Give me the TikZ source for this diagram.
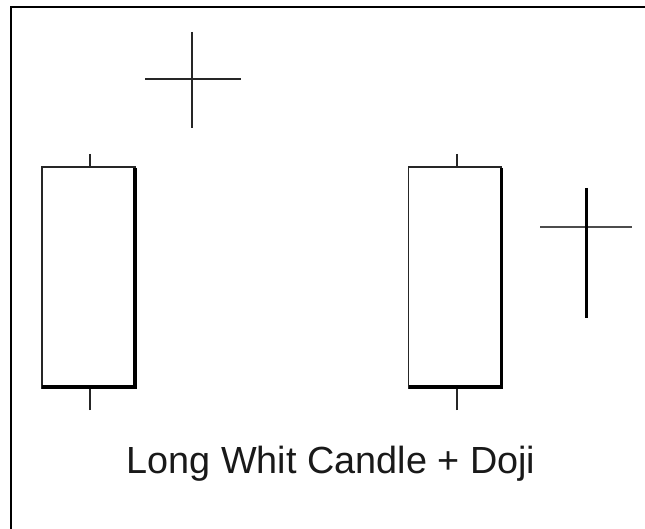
\documentclass[tikz,border=0pt]{standalone}
\usepackage{fontspec}
\setmainfont{Liberation Sans}
\begin{document}
\begin{tikzpicture}[x=1pt,y=-1pt,
  body/.style={draw=black!85,line width=1.8pt,fill=white,minimum width=93pt,minimum height=221pt,inner sep=0pt,outer sep=0pt},
  wick/.style={draw=black!85,line width=1.8pt},
  shade/.style={draw=black,line width=3.6pt},
  cross/.style={draw=black!85,line width=1.8pt},
  frame/.style={draw=black,line width=2.4pt}]
\useasboundingbox (0,0) rectangle (645,529);
\fill[white] (0,0) rectangle (645,529);
% frame
\coordinate (f1) at (11,529);
\coordinate (f2) at (11,7);
\coordinate (f3) at (645,7);
\draw[frame] (f1) -- (f2) -- (f3);
% left long white candle
\node[body] (b1) at (88.5,277.5) {};
\coordinate (t1) at (90,154);
\coordinate (l1) at (90,410);
\draw[wick] (t1) -- (t1 |- b1.north);
\draw[wick] (l1) -- (l1 |- b1.south);
\draw[shade] ([yshift=-0.9pt]b1.north east) -- ([yshift=0.9pt]b1.south east) -- ([yshift=0.9pt]b1.south west);
% top doji
\coordinate (d1t) at (192,32);
\coordinate (d1b) at (192,128);
\coordinate (d1l) at (145,79);
\coordinate (d1r) at (241,79);
\draw[cross] (d1t) -- (d1b);
\draw[cross] (d1l) -- (d1r);
% right long white candle
\node[body] (b2) at (455,277.5) {};
\coordinate (t2) at (457,154);
\coordinate (l2) at (457,410);
\draw[wick] (t2) -- (t2 |- b2.north);
\draw[wick] (l2) -- (l2 |- b2.south);
\draw[shade] ([yshift=-0.9pt]b2.north east) -- ([yshift=0.9pt]b2.south east) -- ([yshift=0.9pt]b2.south west);
% right doji
\coordinate (d2t) at (586,188);
\coordinate (d2b) at (586,318);
\coordinate (d2l) at (540,227);
\coordinate (d2r) at (632,227);
\draw[draw=black!70,line width=2pt] (d2l) -- (d2r);
\draw[draw=black,line width=3pt] (d2t) -- (d2b);
% caption
\node[anchor=base,inner sep=0pt,font=\fontsize{37.8}{42}\selectfont,text=black!90] (cap) at (331,473) {Long Whit Candle + Doji};
\end{tikzpicture}
\end{document}
